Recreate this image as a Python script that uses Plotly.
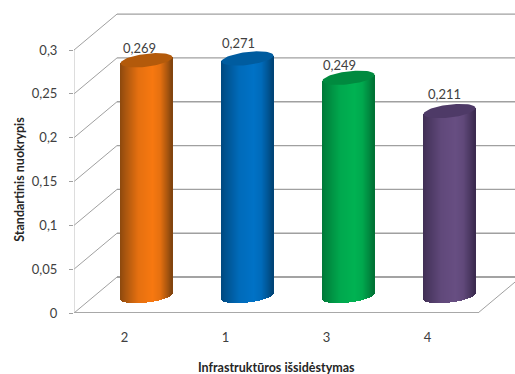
import numpy as np
import plotly.graph_objects as go

# Chart content
categories = ["2", "1", "3", "4"]
values = [0.269, 0.271, 0.249, 0.211]
y_ticks = [0, 0.05, 0.1, 0.15, 0.2, 0.25, 0.3]
y_title = "Standartinis nuokrypis"
x_title = "Infrastruktūros išsidėstymas"

# Cylinder colours: side highlight, side edge, top cap
side_colors = [(247, 120, 16), (0, 114, 198), (0, 178, 82), (103, 78, 130)]
edge_colors = [(125, 66, 14), (0, 66, 116), (0, 112, 52), (58, 42, 78)]
cap_colors = ["#b35a0b", "#005c9f", "#008a3f", "#4e3a67"]

# Scale of the drawing, in pixels
W, H = 515, 374
LEFT, BOTTOM, TOP = 74, 60.5, 12
PX_X, PX_Y = 101.0, 878.0
FIRST_CATEGORY_PX = 124.5

x_min = -(FIRST_CATEGORY_PX - LEFT) / PX_X
x_max = x_min + (W - LEFT) / PX_X
y_max = (H - BOTTOM - TOP) / PX_Y

# Depth of the 3-D box, in data units
depth_x, depth_y = 43 / PX_X, 36 / PX_Y
front_right = x_min + 404 / PX_X

# Cylinder geometry, in data units
radius = 26 / PX_X
ellipse_b = 6.5 / PX_Y
ellipse_tilt = 3.0 / PX_Y
mid_x, mid_y = 22 / PX_X, 17 / PX_Y
strip_px = 1.0

# Label nudges in pixels, relative to the centre of each cap
label_dx = [-7, -9, -9, -5]
label_dy = [12, 15, 13, 17]

GRID = "#a0a0a0"
TEXT = "#404040"
TITLE = "#262626"


def shade(t):
    """Brightness across a cylinder side, t from -1 (left) to 1 (right)."""
    return float(np.interp(t, [-1, -0.85, -0.3, 0.25, 0.55, 0.8, 1],
                           [0.12, 0.3, 0.85, 1.0, 0.85, 0.4, 0.0]))


def mix(edge, side, k):
    r, g, b = (round(e + (s - e) * k) for e, s in zip(edge, side))
    return f"rgb({r},{g},{b})"


def paper_x(px):
    return (px - LEFT) / (W - LEFT)


def paper_y(px):
    return (H - px - BOTTOM) / (H - BOTTOM - TOP)


fig = go.Figure()
shapes = []


def add_line(x0, y0, x1, y1, color=GRID, width=1.0):
    shapes.append(dict(type="line", xref="x", yref="y", x0=x0, y0=y0, x1=x1, y1=y1,
                       layer="below", line=dict(color=color, width=width)))


# Walls: slanted side lines and back-wall gridlines for every tick
for v in y_ticks:
    add_line(x_min, v, x_min + depth_x, v + depth_y)
    add_line(x_min + depth_x, v + depth_y, x_max, v + depth_y,
             color="#858585" if v == 0 else GRID, width=1.6 if v == 0 else 1.3)

# Front-left upright, floor front edge and floor right edge
add_line(x_min, 0, x_min, y_ticks[-1], color="#bcbcbc")
add_line(x_min, 0, front_right, 0, color="#a8a8a8", width=1.8)
add_line(front_right, 0, x_max, depth_y * (x_max - front_right) / depth_x)

# Cylinders: the side is a bar of thin strips so it can carry a gradient
for i, value in enumerate(values):
    cx = i + mid_x
    offsets = np.arange(-26 + strip_px / 2, 26, strip_px) / PX_X
    t = offsets / radius
    lower = mid_y + ellipse_tilt * t - ellipse_b * np.sqrt(1 - t ** 2)
    upper = value + mid_y + ellipse_tilt * t
    fig.add_trace(go.Bar(
        x=cx + offsets,
        y=upper - lower,
        base=lower,
        width=1.3 * strip_px / PX_X,
        marker=dict(color=[mix(edge_colors[i], side_colors[i], shade(a)) for a in t],
                    line=dict(width=0)),
        hoverinfo="skip",
        showlegend=False,
    ))
    theta = np.linspace(0, 2 * np.pi, 73)
    fig.add_trace(go.Scatter(
        x=cx + radius * np.cos(theta),
        y=value + mid_y + ellipse_tilt * np.cos(theta) + ellipse_b * np.sin(theta),
        mode="lines",
        fill="toself",
        fillcolor=cap_colors[i],
        line=dict(width=0),
        hoverinfo="skip",
        showlegend=False,
    ))

# Value labels above each cylinder
annotations = [
    dict(x=i + mid_x, y=value + mid_y, xref="x", yref="y", text=f"{value:.3f}".replace(".", ","),
         showarrow=False, xshift=label_dx[i], yshift=label_dy[i],
         font=dict(family="Lato", size=13, color=TEXT))
    for i, value in enumerate(values)
]

# Axis titles
annotations += [
    dict(x=paper_x(276), y=paper_y(368), xref="paper", yref="paper", text=f"<b>{x_title}</b>",
         showarrow=False, xanchor="center", yanchor="middle",
         font=dict(family="Lato", size=12.5, color=TITLE)),
    dict(x=paper_x(20), y=paper_y(180), xref="paper", yref="paper", text=f"<b>{y_title}</b>",
         showarrow=False, xanchor="center", yanchor="middle", textangle=-90,
         font=dict(family="Lato", size=12.5, color=TITLE)),
]

fig.update_layout(
    width=W,
    height=H,
    margin=dict(l=LEFT, r=0, t=TOP, b=BOTTOM, pad=0),
    paper_bgcolor="white",
    plot_bgcolor="white",
    barmode="overlay",
    bargap=0,
    separators=",.",
    showlegend=False,
    shapes=shapes,
    annotations=annotations,
    font=dict(family="Lato", size=13, color=TEXT),
    xaxis=dict(range=[x_min, x_max], tickmode="array", tickvals=list(range(len(categories))),
               ticktext=categories, showgrid=False, zeroline=False, showline=False,
               ticks="", ticklabelstandoff=15, tickfont=dict(size=13, color=TEXT)),
    yaxis=dict(range=[0, y_max], tickmode="array", tickvals=y_ticks, showgrid=False,
               zeroline=False, showline=False, ticks="outside", ticklen=4, tickcolor=GRID,
               ticklabelstandoff=9, tickfont=dict(size=13, color=TEXT)),
)

fig.write_html("out.html", config={"displayModeBar": False})
